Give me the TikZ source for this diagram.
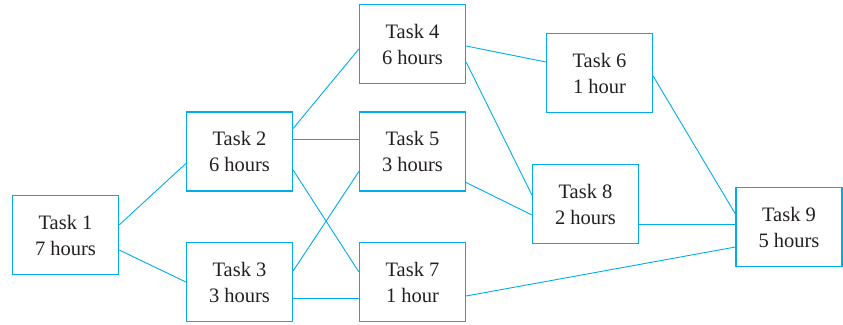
\documentclass[tikz,border=0pt]{standalone}
\usepackage{fontspec}
\setmainfont{Liberation Serif}
\definecolor{linea}{RGB}{0,172,236}
\definecolor{texto}{RGB}{35,31,32}
\begin{document}
\begin{tikzpicture}[
    x=1pt, y=-1pt,
    tarea/.style={
      draw=linea,
      line width=1.2pt,
      minimum width=106pt,
      minimum height=79pt,
      inner sep=0pt,
      align=center,
      text=texto,
      font=\fontsize{20.5}{26}\selectfont
    },
    enlace/.style={
      draw=linea,
      line width=0.9pt
    }
  ]

  \useasboundingbox (0,0) rectangle (843,324);

  % Tareas
  \node[tarea] (t1) at (65.5,235) {Task 1\\7 hours};
  \node[tarea] (t2) at (239.5,151.5) {Task 2\\6 hours};
  \node[tarea] (t3) at (239.5,282) {Task 3\\3 hours};
  \node[tarea] (t4) at (412.5,44) {Task 4\\6 hours};
  \node[tarea] (t5) at (412.5,151.5) {Task 5\\3 hours};
  \node[tarea] (t7) at (412.5,282) {Task 7\\1 hour};
  \node[tarea] (t6) at (599.5,73) {Task 6\\1 hour};
  \node[tarea] (t8) at (585.5,204) {Task 8\\2 hours};
  \node[tarea] (t9) at (789,227) {Task 9\\5 hours};

  % Dependencias
  \draw[enlace] ([yshift=10pt]t1.east) -- ([yshift=-12pt]t2.west);
  \draw[enlace] ([yshift=-15pt]t1.east) -- (t3.west);

  \draw[enlace] ([yshift=23pt]t2.east) -- ([yshift=-5pt]t4.west);
  \draw[enlace] ([yshift=12.5pt]t2.east) -- ([yshift=12.5pt]t5.west);
  \draw[enlace] ([yshift=-18.5pt]t2.east) -- ([yshift=10pt]t7.west);

  \draw[enlace] ([yshift=11pt]t3.east) -- ([yshift=-20pt]t5.west);
  \draw[enlace] ([yshift=-16pt]t3.east) -- ([yshift=-16pt]t7.west);

  \draw[enlace] ([yshift=-2pt]t4.east) -- ([yshift=11pt]t6.west);
  \draw[enlace] ([yshift=-18pt]t4.east) -- ([yshift=9pt]t8.west);
  \draw[enlace] ([yshift=-31pt]t5.east) -- ([yshift=-11pt]t8.west);

  \draw[enlace] ([yshift=-3pt]t6.east) -- ([yshift=13pt]t9.west);
  \draw[enlace] ([yshift=-20.3pt]t8.east) -- ([yshift=2.7pt]t9.west);
  \draw[enlace] ([yshift=-14pt]t7.east) -- ([yshift=-20pt]t9.west);

\end{tikzpicture}
\end{document}
